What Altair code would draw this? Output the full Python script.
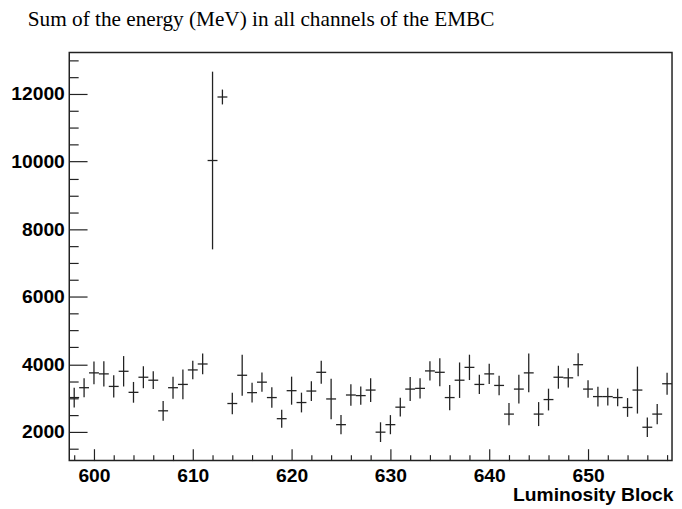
import altair as alt
import pandas as pd

lumi_block = list(range(598, 659))
energy = [3015, 3307, 3746, 3716, 3345, 3793, 3170, 3617, 3529, 2623,
          3307, 3404, 3833, 4009, 10032, 11912, 2839, 3675, 3161, 3471,
          3015, 2390, 3219, 2868, 3208, 3763, 2974, 2213, 3091, 3073,
          3237, 1991, 2213, 2731, 3266, 3287, 3804, 3763, 3015, 3529,
          3909, 3404, 3716, 3374, 2526, 3266, 3746, 2526, 2956, 3617,
          3599, 3988, 3266, 3044, 3044, 3015, 2722, 3237, 2137, 2526, 3424]
energy_err = [292, 283, 340, 375, 330, 450, 307, 325, 263, 292,
              325, 440, 273, 307, 2630, 220, 317, 605, 292, 283,
              302, 268, 415, 292, 292, 340, 600, 283, 317, 268,
              350, 292, 283, 278, 355, 302, 283, 415, 375, 525,
              375, 283, 302, 288, 330, 425, 575, 355, 322, 340,
              283, 340, 258, 292, 263, 258, 278, 695, 288, 302, 327]

x_major = [600, 610, 620, 630, 640, 650]
x_minor = [v for v in range(598, 659, 2) if v not in x_major]
y_major = [2000, 4000, 6000, 8000, 10000, 12000]
y_minor = [v for v in range(1500, 13001, 500) if v not in y_major]

title_text = "Sum of the energy (MeV) in all channels of the EMBC"
x_title = "Luminosity Block"

df = pd.DataFrame({"lb": lumi_block, "e": energy, "err": energy_err})

X_DOM = [597.5, 658.5]
Y_DOM = [1150, 13230]
W, H = 610, 413
INK = "#222222"
FONT = "Liberation Sans"
FS = 19.5

xs = alt.Scale(domain=X_DOM, nice=False, zero=False)
ys = alt.Scale(domain=Y_DOM, nice=False, zero=False)

base = alt.Chart(df).transform_calculate(
    lo="datum.e - datum.err", hi="datum.e + datum.err",
    xlo="datum.lb - 0.5", xhi="datum.lb + 0.5",
)

major_x_axis = alt.Axis(values=x_major, orient="bottom", offset=-12, tickSize=12,
                        domain=False, grid=False, tickColor=INK, tickWidth=1.2,
                        labelFont=FONT, labelFontSize=FS, labelFontWeight="bold",
                        labelColor="black", labelPadding=6, labelFlush=False,
                        format="d", title=x_title, titleFont=FONT, titleFontSize=FS,
                        titleFontWeight="bold", titleColor="black", titleAlign="right",
                        titleX=611, titleY=52, titleBaseline="alphabetic")
major_y_axis = alt.Axis(values=y_major, orient="left", offset=-18, tickSize=18,
                        domain=False, grid=False, tickColor=INK, tickWidth=1.2,
                        labelFont=FONT, labelFontSize=FS, labelFontWeight="bold",
                        labelColor="black", labelPadding=5, labelFlush=False,
                        format="d", title=None)
minor_x_axis = alt.Axis(values=x_minor, orient="bottom", offset=-6, tickSize=6,
                        domain=False, grid=False, tickColor=INK, tickWidth=1.2,
                        labels=False, title=None)
minor_y_axis = alt.Axis(values=y_minor, orient="left", offset=-9, tickSize=9,
                        domain=False, grid=False, tickColor=INK, tickWidth=1.2,
                        labels=False, title=None)

vbars = base.mark_rule(color=INK, strokeWidth=1.3).encode(
    x=alt.X("lb:Q", scale=xs, axis=major_x_axis),
    y=alt.Y("lo:Q", scale=ys, axis=major_y_axis),
    y2="hi:Q",
)
hbars = base.mark_rule(color=INK, strokeWidth=1.3).encode(
    x=alt.X("xlo:Q", scale=xs, axis=minor_x_axis),
    x2="xhi:Q",
    y=alt.Y("e:Q", scale=ys, axis=minor_y_axis),
)

chart = alt.layer(vbars, hbars).resolve_axis(
    x="independent", y="independent"
).properties(
    width=W, height=H,
    autosize=alt.AutoSizeParams(type="none"),
    padding={"left": 62, "top": 42, "right": 2, "bottom": 46},
    title=alt.TitleParams(title_text, font="Liberation Serif", fontSize=21.5,
                          fontWeight="normal", color="black", anchor="start",
                          frame="group", dx=-42, offset=5, baseline="alphabetic"),
).configure_view(stroke=INK, strokeWidth=1.5)

chart.save("out.html", embed_options={"renderer": "svg", "actions": False})
